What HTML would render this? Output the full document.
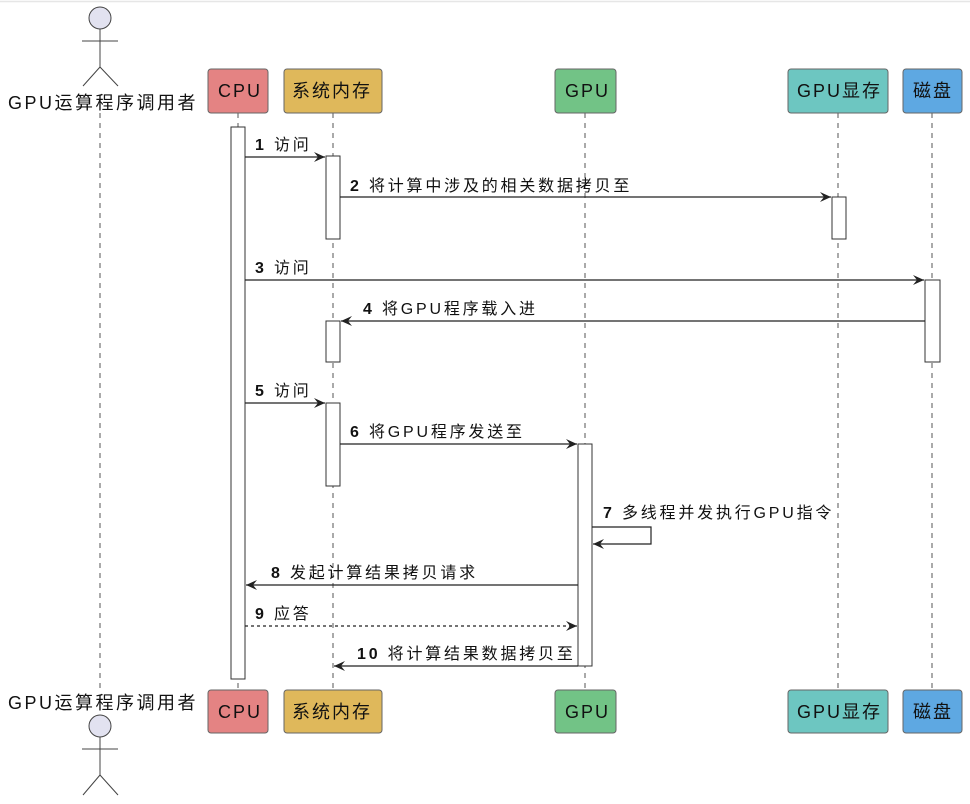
<!DOCTYPE html>
<html><head><meta charset="utf-8"><style>body{margin:0;background:#fff}svg{display:block}text{font-family:"Liberation Sans","Noto Sans CJK SC",sans-serif}</style></head><body>
<svg width="970" height="804" viewBox="0 0 970 804" xmlns="http://www.w3.org/2000/svg">
<rect x="0" y="0" width="970" height="804" fill="#fff"/>
<line x1="0" y1="1.5" x2="970" y2="1.5" stroke="#e6e6e6" stroke-width="1.5"/>
<g stroke="#555" stroke-width="1" stroke-dasharray="5,5">
<line x1="100" y1="113" x2="100" y2="690"/>
<line x1="238" y1="113" x2="238" y2="690"/>
<line x1="333" y1="113" x2="333" y2="690"/>
<line x1="585" y1="113" x2="585" y2="690"/>
<line x1="838" y1="113" x2="838" y2="690"/>
<line x1="932" y1="113" x2="932" y2="690"/>
</g>
<g stroke="#444" stroke-width="1" fill="none">
<circle cx="100" cy="18" r="11" fill="#e2e2f0"/>
<line x1="100" y1="29" x2="100" y2="67"/><line x1="82" y1="41" x2="118" y2="41"/>
<line x1="100" y1="67" x2="83" y2="86"/><line x1="100" y1="67" x2="118" y2="86"/>
<circle cx="100" cy="726" r="11" fill="#e2e2f0"/>
<line x1="100" y1="737" x2="100" y2="775"/><line x1="82" y1="749" x2="118" y2="749"/>
<line x1="100" y1="775" x2="83" y2="795"/><line x1="100" y1="775" x2="118" y2="795"/>
</g>
<g font-size="18" fill="#111" letter-spacing="2.5">
<text x="8" y="109">GPU运算程序调用者</text>
<text x="8" y="709">GPU运算程序调用者</text>
</g>
<g stroke="#666" stroke-width="1">
<rect x="208" y="69" width="60" height="44" rx="3" fill="#e48383"/>
<rect x="284" y="69" width="98" height="44" rx="3" fill="#dfb85b"/>
<rect x="555" y="69" width="61" height="44" rx="3" fill="#72c386"/>
<rect x="788" y="69" width="100" height="44" rx="3" fill="#6dc6c1"/>
<rect x="903" y="69" width="59" height="44" rx="3" fill="#5ea8e2"/>
<rect x="208" y="690" width="60" height="43" rx="3" fill="#e48383"/>
<rect x="284" y="690" width="98" height="43" rx="3" fill="#dfb85b"/>
<rect x="555" y="690" width="61" height="43" rx="3" fill="#72c386"/>
<rect x="788" y="690" width="100" height="43" rx="3" fill="#6dc6c1"/>
<rect x="903" y="690" width="59" height="43" rx="3" fill="#5ea8e2"/>
</g>
<g font-size="18" fill="#111" letter-spacing="2">
<text x="218" y="97">CPU</text><text x="292" y="97">系统内存</text><text x="565" y="97">GPU</text><text x="797" y="97">GPU显存</text><text x="913" y="97">磁盘</text>
<text x="218" y="718">CPU</text><text x="292" y="718">系统内存</text><text x="565" y="718">GPU</text><text x="797" y="718">GPU显存</text><text x="913" y="718">磁盘</text>
</g>
<g fill="#fff" stroke="#333" stroke-width="1">
<rect x="231" y="127" width="14" height="552"/>
<rect x="326" y="156" width="14" height="83"/>
<rect x="326" y="321" width="14" height="41"/>
<rect x="326" y="403" width="14" height="83"/>
<rect x="832" y="197" width="14" height="42"/>
<rect x="925" y="280" width="15" height="82"/>
<rect x="578" y="444" width="14" height="222"/>
</g>
<defs>
<marker id="a" markerWidth="12" markerHeight="10" refX="11" refY="5" orient="auto" markerUnits="userSpaceOnUse"><path d="M0,0 L11,5 L0,10 L4,5 Z" fill="#222"/></marker>
</defs>
<g stroke="#222" stroke-width="1.2" fill="none">
<line x1="245" y1="157" x2="325" y2="157" marker-end="url(#a)"/>
<line x1="340" y1="197" x2="831" y2="197" marker-end="url(#a)"/>
<line x1="245" y1="280" x2="924" y2="280" marker-end="url(#a)"/>
<line x1="925" y1="321" x2="341" y2="321" marker-end="url(#a)"/>
<line x1="245" y1="403" x2="325" y2="403" marker-end="url(#a)"/>
<line x1="340" y1="444" x2="577" y2="444" marker-end="url(#a)"/>
<polyline points="592,527 651,527 651,544 593,544" marker-end="url(#a)"/>
<line x1="578" y1="585" x2="246" y2="585" marker-end="url(#a)"/>
<line x1="245" y1="626" x2="577" y2="626" stroke-dasharray="3,3" marker-end="url(#a)"/>
<line x1="578" y1="666" x2="334" y2="666" marker-end="url(#a)"/>
</g>
<g font-size="16" fill="#111" letter-spacing="2.8">
<text x="255" y="150"><tspan font-weight="bold">1</tspan> 访问</text>
<text x="350" y="191"><tspan font-weight="bold">2</tspan> 将计算中涉及的相关数据拷贝至</text>
<text x="255" y="273"><tspan font-weight="bold">3</tspan> 访问</text>
<text x="363" y="314"><tspan font-weight="bold">4</tspan> 将GPU程序载入进</text>
<text x="255" y="396"><tspan font-weight="bold">5</tspan> 访问</text>
<text x="350" y="437"><tspan font-weight="bold">6</tspan> 将GPU程序发送至</text>
<text x="603" y="518"><tspan font-weight="bold">7</tspan> 多线程并发执行GPU指令</text>
<text x="271" y="578"><tspan font-weight="bold">8</tspan> 发起计算结果拷贝请求</text>
<text x="255" y="619"><tspan font-weight="bold">9</tspan> 应答</text>
<text x="357" y="659"><tspan font-weight="bold">10</tspan> 将计算结果数据拷贝至</text>
</g>
</svg>
</body></html>
